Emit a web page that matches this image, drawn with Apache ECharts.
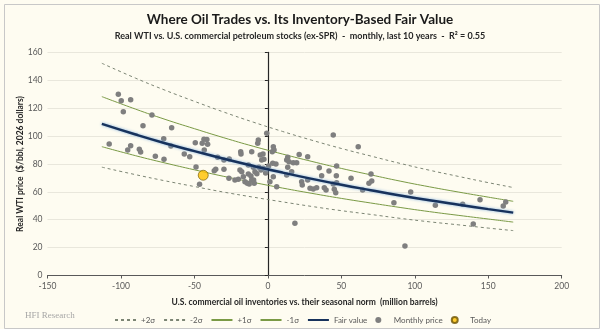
<!DOCTYPE html>
<html>
<head>
<meta charset="utf-8">
<script src="https://cdn.jsdelivr.net/npm/echarts@6/dist/echarts.min.js"></script>
<style>
  html, body { margin: 0; padding: 0; background: #fefcf1; }
  #chart { width: 600px; height: 329px; }
</style>
</head>
<body>
<div id="chart"></div>
<script type="text/javascript">
// inventory deviation (million bbl) where the fitted curves are read
var bandX   = [-113, -90, -70, -50, -30, -10, 10, 30, 50, 70, 90, 110, 130, 150, 167];
var fair    = [108.7, 101.1, 94.9, 89.2, 83.7, 78.6, 73.8, 69.3, 65.1, 61.2, 57.4, 53.9, 50.7, 47.6, 45.1];
var plus1   = [128.3, 119.3, 112.0, 105.3, 98.8, 92.7, 87.1, 81.8, 76.8, 72.2, 67.7, 63.6, 59.8, 56.2, 53.2];
var minus1  = [92.4, 85.9, 80.7, 75.8, 71.1, 66.8, 62.7, 58.9, 55.3, 52.0, 48.8, 45.8, 43.1, 40.5, 38.3];
var plus2   = [152.2, 141.5, 132.9, 124.9, 117.2, 110.0, 103.3, 97.0, 91.1, 85.7, 80.4, 75.5, 71.0, 66.6, 63.1];
var minus2  = [77.7, 72.3, 67.9, 63.8, 59.8, 56.2, 52.8, 49.5, 46.5, 43.8, 41.0, 38.5, 36.3, 34.0, 32.2];

// monthly observations: inventory deviation / real WTI
var monthX = [-101.8, -99.8, -93.4, -98.4, -78.9, -85.0, -65.5, -70.9, -66.0, -49.4,
              -108.0, -93.4, -95.4, -87.5, -86.6, -76.6, -70.7, -56.9, -53.2, -48.9,
              -46.5, -43.5, -41.5, -44.7, -41.0, -43.3, -34.2, -29.9, -26.3, -35.5,
              -29.9, -36.5, -26.5, -20.1, -22.4, -18.5, -18.3, -11.0, -5.2, -3.3,
              -6.9, -6.5, -0.8, -2.7, -4.2, -13.3, -19.0, -17.8, -13.3, -11.5,
              -9.9, -8.8, -6.1, -4.7, -3.1, -16.7, -15.6, -14.0, -12.7, -11.0,
              -9.7, -9.3, 1.4, 3.7, 3.0, 3.7, 4.2, 6.0, 5.5, 3.3,
              12.8, 13.5, 14.4, 17.3, 19.6, 13.5, 16.2, 12.8, 18.4, 21.3,
              27.1, 44.5, 61.5, 35.0, 41.6, 46.8, 36.6, 46.6, 27.1, 23.0,
              23.4, 28.7, 30.9, 33.2, 38.4, 39.6, 44.5, 46.8, 45.2, 46.2,
              56.6, 70.2, 70.7, 68.8, 64.5, 85.8, 97.2, 114.0, 132.6, 144.4,
              161.9, 160.2, 139.8, 93.3, -7.5, -1.5, 0.5];
var monthY = [129.9, 125.4, 126.1, 117.5, 115.1, 107.4, 106.0, 98.1, 92.9, 95.2,
              94.3, 93.1, 90.0, 90.5, 88.6, 85.5, 83.3, 87.1, 85.2, 77.8,
              65.5, 97.7, 97.5, 94.8, 94.1, 90.0, 84.8, 82.8, 83.5, 76.2,
              76.2, 75.2, 69.7, 69.0, 68.5, 88.8, 87.1, 88.8, 86.4, 87.1,
              94.8, 97.2, 102.0, 83.3, 82.8, 79.2, 75.7, 74.4, 72.8, 71.4,
              77.6, 74.4, 77.6, 75.7, 76.9, 70.9, 67.3, 66.1, 65.6, 68.5,
              68.5, 66.1, 67.3, 70.9, 88.8, 92.4, 90.0, 63.7, 80.0, 80.5,
              82.8, 84.8, 81.6, 80.9, 80.9, 77.6, 74.4, 72.1, 37.4, 86.8,
              85.2, 100.8, 92.4, 77.3, 74.9, 78.5, 71.6, 71.6, 68.5, 67.3,
              64.9, 62.5, 62.0, 63.0, 63.0, 61.3, 65.6, 66.6, 61.8, 59.4,
              69.7, 72.8, 67.8, 66.1, 61.3, 52.2, 59.9, 50.3, 51.1, 54.4,
              52.7, 49.8, 36.9, 21.2, 73.0, 73.5, 78.5];

var todayX = [-44.0];
var todayY = [71.9];

var xTicks = [-150, 200, 50];   // min, max, step
var yTicks = [0, 160, 20];

function pairs(xs, ys) {
  var out = [];
  for (var i = 0; i < xs.length; i++) out.push([xs[i], ys[i]]);
  return out;
}

var font = 'Lato, "Open Sans", sans-serif';
var dashColor = '#7c8574';
var sigColor = '#7a9a45';
var noDot = { opacity: 0 };   // hide the circle echarts puts on line legend icons

var chart = echarts.init(document.getElementById('chart'));
var option = {
  backgroundColor: '#fefcf1',
  animation: false,
  title: {
    text: 'Where Oil Trades vs. Its Inventory-Based Fair Value',
    subtext: 'Real WTI vs. U.S. commercial petroleum stocks (ex-SPR)  -  monthly, last 10 years  -  R\u00b2 = 0.55',
    left: 'center',
    top: 8,
    itemGap: 5,
    textStyle: { fontFamily: font, fontSize: 13.5, fontWeight: 'bold', color: '#1a1a1a' },
    subtextStyle: { fontFamily: font, fontSize: 9, fontWeight: 'bold', color: '#262626' }
  },
  grid: { left: 47.5, right: 38.3, top: 52.4, bottom: 53.5 },
  xAxis: {
    type: 'value',
    min: xTicks[0], max: xTicks[1], interval: xTicks[2],
    name: 'U.S. commercial oil inventories vs. their seasonal norm  (million barrels)',
    nameLocation: 'middle',
    nameGap: 22,
    nameTextStyle: { fontFamily: font, fontSize: 8.5, fontWeight: 'bold', color: '#262626' },
    axisLine: { lineStyle: { color: '#595959', width: 1 } },
    axisTick: { show: true, length: 3, lineStyle: { color: '#595959' } },
    axisLabel: { fontFamily: font, fontSize: 8.5, color: '#595959', margin: 6 },
    splitLine: { show: false }
  },
  yAxis: {
    type: 'value',
    min: yTicks[0], max: yTicks[1], interval: yTicks[2],
    axisLine: { onZero: true, lineStyle: { color: '#262626', width: 1.2 } },
    axisTick: { show: true, length: 3, lineStyle: { color: '#262626' } },
    axisLabel: { fontFamily: font, fontSize: 8.5, color: '#595959', margin: 5 },
    splitLine: { lineStyle: { color: '#e9e7dc', width: 1 } }
  },
  legend: {
    left: 109, top: 311,
    itemWidth: 21, itemHeight: 6, itemGap: 8,
    textStyle: { fontFamily: font, fontSize: 8, color: '#595959' },
    data: [
      { name: '+2\u03c3', itemStyle: noDot },
      { name: '-2\u03c3', itemStyle: noDot },
      { name: '+1\u03c3', itemStyle: noDot },
      { name: '-1\u03c3', itemStyle: noDot },
      { name: 'Fair value', itemStyle: noDot },
      'Monthly price',
      'Today'
    ]
  },
  graphic: [
    { type: 'rect', left: 2, top: 2, shape: { width: 595, height: 324 }, style: { fill: null, stroke: '#c8c8c8', lineWidth: 1 }, silent: true },
    { type: 'text', left: 25, top: 311, style: { text: 'HFI Research', font: '9px "Liberation Serif", serif', fill: '#a6a6a6' } },
    { type: 'text', x: 20, y: 164, rotation: Math.PI / 2, style: { text: 'Real WTI price  ($/bbl, 2026 dollars)', font: 'bold 8.5px ' + font, fill: '#262626', align: 'center', verticalAlign: 'middle' } }
  ],
  series: [
    { name: '+2\u03c3', type: 'line', data: pairs(bandX, plus2), symbol: 'none', smooth: true,
      lineStyle: { color: dashColor, width: 1, type: [3, 3] }, itemStyle: { color: dashColor } },
    { name: '-2\u03c3', type: 'line', data: pairs(bandX, minus2), symbol: 'none', smooth: true,
      lineStyle: { color: dashColor, width: 1, type: [3, 3] }, itemStyle: { color: dashColor } },
    { name: '+1\u03c3', type: 'line', data: pairs(bandX, plus1), symbol: 'none', smooth: true,
      lineStyle: { color: sigColor, width: 1 }, itemStyle: { color: sigColor } },
    { name: '-1\u03c3', type: 'line', data: pairs(bandX, minus1), symbol: 'none', smooth: true,
      lineStyle: { color: sigColor, width: 1 }, itemStyle: { color: sigColor } },
    { name: 'Fair value', type: 'line', data: pairs(bandX, fair), symbol: 'none', smooth: true, z: 4,
      lineStyle: { color: '#17325c', width: 2.5, shadowColor: 'rgba(120,170,220,0.9)', shadowBlur: 3 },
      itemStyle: { color: '#17325c' } },
    { name: 'Monthly price', type: 'scatter', data: pairs(monthX, monthY), symbolSize: 5.5, z: 3,
      itemStyle: { color: '#7f7f7f', opacity: 1 } },
    { name: 'Today', type: 'scatter', data: pairs(todayX, todayY), symbolSize: 10, z: 6,
      itemStyle: { color: '#ffc000', borderColor: '#6b5300', borderWidth: 0.8 } }
  ]
};
chart.setOption(option);
</script>
</body>
</html>
